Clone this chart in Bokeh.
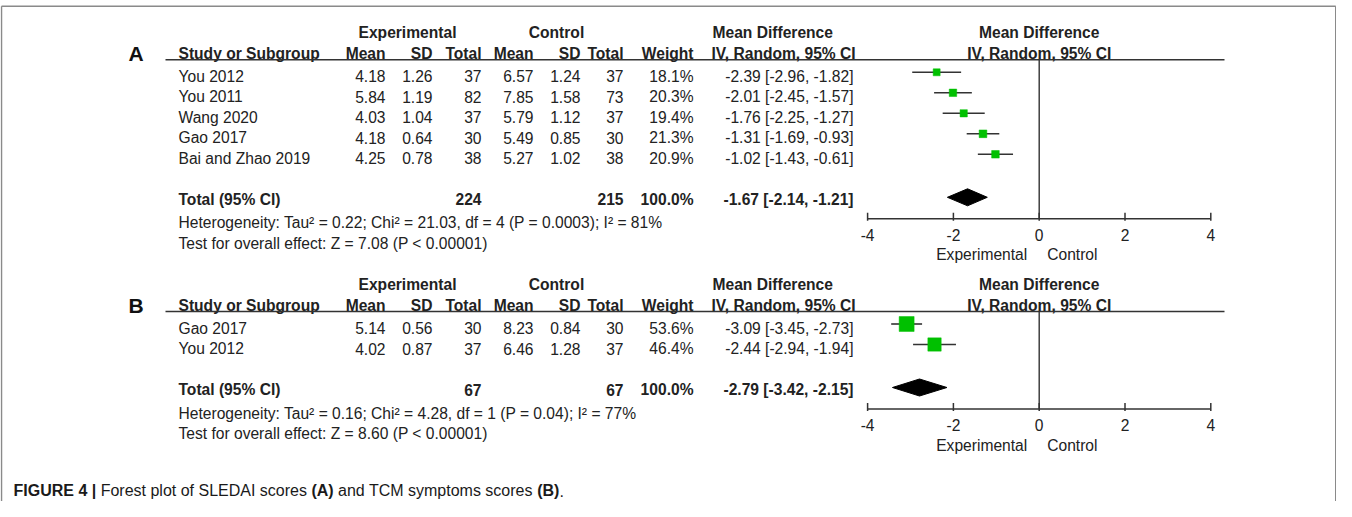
from bokeh.plotting import figure
from bokeh.models import Range1d, ColumnDataSource
from bokeh.core.properties import value
from bokeh.embed import file_html
from bokeh.resources import INLINE

# ---------------- data ----------------
studies_a = ["You 2012", "You 2011", "Wang 2020", "Gao 2017", "Bai and Zhao 2019"]
exp_mean_a = [4.18, 5.84, 4.03, 4.18, 4.25]
exp_sd_a = [1.26, 1.19, 1.04, 0.64, 0.78]
exp_n_a = [37, 82, 37, 30, 38]
ctl_mean_a = [6.57, 7.85, 5.79, 5.49, 5.27]
ctl_sd_a = [1.24, 1.58, 1.12, 0.85, 1.02]
ctl_n_a = [37, 73, 37, 30, 38]
weight_a = [18.1, 20.3, 19.4, 21.3, 20.9]
md_a = [-2.39, -2.01, -1.76, -1.31, -1.02]
lo_a = [-2.96, -2.45, -2.25, -1.69, -1.43]
hi_a = [-1.82, -1.57, -1.27, -0.93, -0.61]
total_a = dict(n_exp=224, n_ctl=215, weight=100.0, md=-1.67, lo=-2.14, hi=-1.21)
het_a = "Heterogeneity: Tau\u00b2 = 0.22; Chi\u00b2 = 21.03, df = 4 (P = 0.0003); I\u00b2 = 81%"
test_a = "Test for overall effect: Z = 7.08 (P < 0.00001)"

studies_b = ["Gao 2017", "You 2012"]
exp_mean_b = [5.14, 4.02]
exp_sd_b = [0.56, 0.87]
exp_n_b = [30, 37]
ctl_mean_b = [8.23, 6.46]
ctl_sd_b = [0.84, 1.28]
ctl_n_b = [30, 37]
weight_b = [53.6, 46.4]
md_b = [-3.09, -2.44]
lo_b = [-3.45, -2.94]
hi_b = [-2.73, -1.94]
total_b = dict(n_exp=67, n_ctl=67, weight=100.0, md=-2.79, lo=-3.42, hi=-2.15)
het_b = "Heterogeneity: Tau\u00b2 = 0.16; Chi\u00b2 = 4.28, df = 1 (P = 0.04); I\u00b2 = 77%"
test_b = "Test for overall effect: Z = 8.60 (P < 0.00001)"

tick_values = [-4, -2, 0, 2, 4]
tick_labels = ["-4", "-2", "0", "2", "4"]
favours = ["Experimental", "Control"]
col_headers = ["Study or Subgroup", "Mean", "SD", "Total", "Mean", "SD", "Total", "Weight",
               "IV, Random, 95% CI", "IV, Random, 95% CI"]
group_headers = ["Experimental", "Control", "Mean Difference", "Mean Difference"]
caption_parts = ["FIGURE 4 |", "Forest plot of SLEDAI scores", "(A)", "and TCM symptoms scores", "(B)", "."]
caption_bold = [True, False, True, False, True, False]
caption_space_before = [False, True, True, True, True, False]

# ---------------- layout ----------------
W, H = 1336, 501
OFF = 0
FONT = "Liberation Sans"
FS = "15.6px"
TXT = "#222222"
GREEN = "#00c000"
LINE = "#333333"


def cx(x):
    return x - OFF


def cy(y):
    return y - OFF


ZERO_X = 1038.7
UNIT = 42.9
md_start = (0 - cx(ZERO_X)) / UNIT
md_end = (W - cx(ZERO_X)) / UNIT

p = figure(width=W, height=H, x_range=Range1d(0, W), y_range=Range1d(H, 0),
           output_backend="svg", toolbar_location=None, min_border=0,
           x_axis_location=None, y_axis_location=None)
p.extra_x_ranges = {"md": Range1d(md_start, md_end)}
p.grid.visible = False
p.outline_line_color = None
p.background_fill_color = "white"
p.border_fill_color = "white"

# frame
p.segment(x0=[1, 1, W - 0.75], x1=[W - 0.75, 1, W - 0.75], y0=[5.7, 5.7, 5.7], y1=[5.7, H, H],
          line_color="#8a8a8a", line_width=1.5)

col_right = [385, 432, 481, 533, 580, 623, 693]
STUDY_X = 178
CI_RIGHT = 853
MD_HDR_X = 712


def txt(x, y, s, align="left", bold=False, size=FS, x_range_name="default", color=TXT, x_offset=0):
    p.text(x=[x], y=[y], text=[s], text_align=align, text_baseline="middle",
           text_font=value(FONT), text_font_size=size, text_color=color,
           text_font_style="bold" if bold else "normal", x_range_name=x_range_name,
           x_offset=x_offset)


def section(label, hdr2, studies, em, es, en, cm, cs, cn, w, md, lo, hi, tot, het, test):
    hdr1 = hdr2 - 21
    uline = hdr2 + 6
    step = 20.5
    row0 = hdr2 + 22.5
    n = len(studies)
    total_y = row0 + (n + 1) * step
    het_y = total_y + 23.5
    test_y = het_y + 20.5
    axis_y = total_y + 19.5

    txt(cx(128), cy(hdr2 - 0.5), label, bold=True, size="21px", color="#111111")
    # group headers
    txt(cx(407), cy(hdr1), group_headers[0], align="center", bold=True)
    txt(cx(556), cy(hdr1), group_headers[1], align="center", bold=True)
    txt(cx(MD_HDR_X), cy(hdr1), group_headers[2], bold=True)
    txt(0, cy(hdr1), group_headers[3], align="center", bold=True, x_range_name="md")
    # column headers
    txt(cx(STUDY_X), cy(hdr2), col_headers[0], bold=True)
    for xr, h in zip(col_right, col_headers[1:8]):
        txt(cx(xr), cy(hdr2), h, align="right", bold=True)
    txt(cx(MD_HDR_X - 1), cy(hdr2), col_headers[8], bold=True)
    txt(0, cy(hdr2), col_headers[9], align="center", bold=True, x_range_name="md")
    p.segment(x0=[cx(165)], x1=[cx(1224)], y0=[cy(uline)], y1=[cy(uline)],
              line_color=LINE, line_width=1.5)

    ys = [cy(row0 + i * step) for i in range(n)]
    src = ColumnDataSource(dict(
        y=ys, ym=[y - 4 for y in ys], study=studies,
        em=[f"{v:.2f}" for v in em], es=[f"{v:.2f}" for v in es], en=[str(v) for v in en],
        cm=[f"{v:.2f}" for v in cm], cs=[f"{v:.2f}" for v in cs], cn=[str(v) for v in cn],
        w=[f"{v:.1f}%" for v in w],
        ci=[f"{a:.2f} [{b:.2f}, {c:.2f}]" for a, b, c in zip(md, lo, hi)],
        md=md, lo=lo, hi=hi, sz=[2.9 + 0.225 * v for v in w]))
    common = dict(y="y", source=src, text_baseline="middle", text_font=value(FONT),
                  text_font_size=FS, text_color=TXT)
    p.text(x=cx(STUDY_X), text="study", text_align="left", **common)
    for xr, col in zip(col_right, ["em", "es", "en", "cm", "cs", "cn", "w"]):
        p.text(x=cx(xr), text=col, text_align="right", **common)
    p.text(x=cx(CI_RIGHT), text="ci", text_align="right", **common)

    # forest marks
    p.segment(x0="lo", x1="hi", y0="ym", y1="ym", source=src, x_range_name="md",
              line_color=LINE, line_width=1.6)
    p.scatter(x="md", y="ym", size="sz", marker="square", source=src, x_range_name="md",
              fill_color=GREEN, line_color=GREEN, line_width=0.5)

    # totals
    ty = cy(total_y)
    txt(cx(STUDY_X), ty, "Total (95% CI)", bold=True)
    txt(cx(col_right[2]), ty, str(tot["n_exp"]), align="right", bold=True)
    txt(cx(col_right[5]), ty, str(tot["n_ctl"]), align="right", bold=True)
    txt(cx(col_right[6]), ty, f"{tot['weight']:.1f}%", align="right", bold=True)
    txt(cx(CI_RIGHT), ty, f"{tot['md']:.2f} [{tot['lo']:.2f}, {tot['hi']:.2f}]", align="right", bold=True)
    dy = ty - 2
    dh = 8.5
    p.patch(x=[tot["lo"], tot["md"], tot["hi"], tot["md"]], y=[dy, dy - dh, dy, dy + dh],
            x_range_name="md", fill_color="black", line_color="black")
    txt(cx(STUDY_X), cy(het_y), het)
    txt(cx(STUDY_X), cy(test_y), test)

    # zero line and axis
    ay = cy(axis_y)
    p.segment(x0=[0], x1=[0], y0=[cy(uline)], y1=[ay], x_range_name="md",
              line_color=LINE, line_width=1.4)
    p.segment(x0=[min(tick_values)], x1=[max(tick_values)], y0=[ay], y1=[ay], x_range_name="md",
              line_color=LINE, line_width=1.5)
    p.segment(x0=tick_values, x1=tick_values, y0=[ay - 6] * len(tick_values),
              y1=[ay + 2] * len(tick_values), x_range_name="md", line_color=LINE, line_width=1.5)
    p.text(x=tick_values, y=[ay + 16] * len(tick_values), text=tick_labels, text_align="center",
           text_baseline="middle", text_font=value(FONT), text_font_size=FS, text_color=TXT,
           x_range_name="md")
    txt(0, ay + 36, favours[0], align="right", x_range_name="md", x_offset=-12)
    txt(0, ay + 36, favours[1], align="left", x_range_name="md", x_offset=8)


section("A", 53.3, studies_a, exp_mean_a, exp_sd_a, exp_n_a, ctl_mean_a, ctl_sd_a, ctl_n_a,
        weight_a, md_a, lo_a, hi_a, total_a, het_a, test_a)
section("B", 305, studies_b, exp_mean_b, exp_sd_b, exp_n_b, ctl_mean_b, ctl_sd_b, ctl_n_b,
        weight_b, md_b, lo_b, hi_b, total_b, het_b, test_b)

# caption (Arial / Liberation Sans advance widths per 1000 em)
REG = {" ": 278, "(": 333, ")": 333, ".": 278, "|": 260, "4": 556, "A": 667, "B": 667, "C": 722,
       "D": 722, "E": 667, "F": 611, "G": 778, "I": 278, "L": 556, "M": 833, "R": 722, "S": 667,
       "T": 611, "U": 722, "a": 556, "c": 500, "d": 556, "e": 556, "f": 278, "l": 222, "m": 833,
       "n": 556, "o": 556, "p": 556, "r": 333, "s": 500, "t": 278, "y": 500}
BOLD = {" ": 278, "(": 333, ")": 333, "|": 280, "4": 556, "A": 722, "B": 722, "E": 667, "F": 611,
        "G": 778, "I": 278, "R": 722, "U": 722, ".": 278}
CAP_FS = 16
x = cx(13)
cap_y = 490
for s, b, sp in zip(caption_parts, caption_bold, caption_space_before):
    if sp:
        x += REG[" "] * CAP_FS / 1000.0
    txt(x, cap_y, s, bold=b, size=f"{CAP_FS}px", color="#1a1a1a")
    table = BOLD if b else REG
    x += sum(table.get(ch, 556) for ch in s) * CAP_FS / 1000.0

open("out.html", "w").write(file_html(p, INLINE))
